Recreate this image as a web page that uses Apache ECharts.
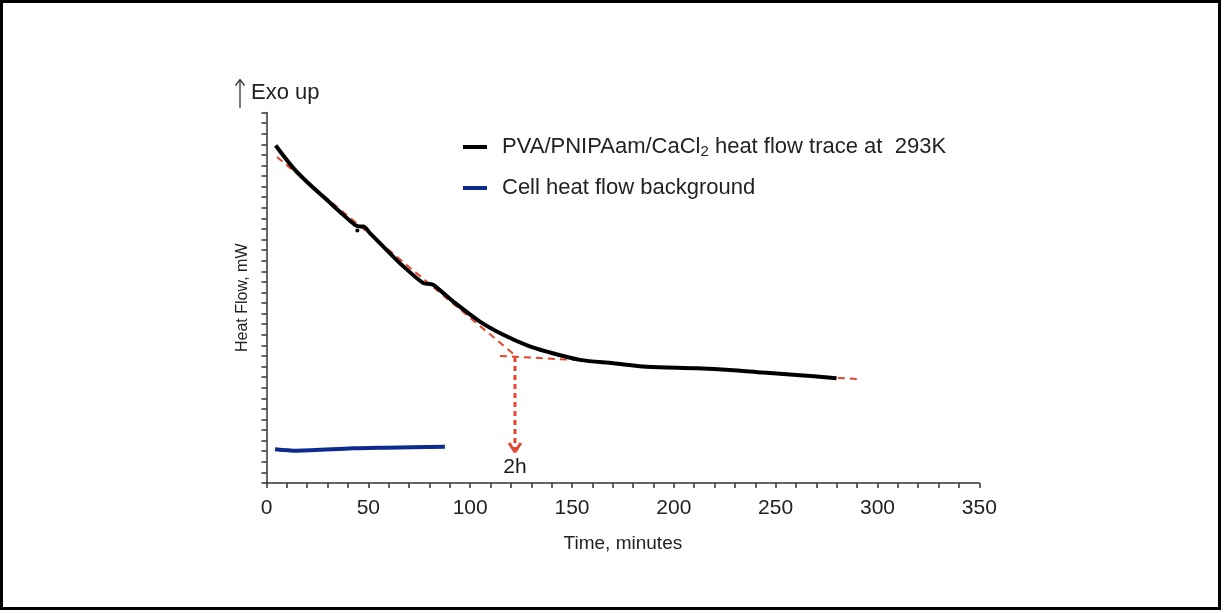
<!DOCTYPE html>
<html>
<head>
<meta charset="utf-8">
<script src="https://cdn.jsdelivr.net/npm/echarts@6/dist/echarts.min.js"></script>
<style>
html,body{margin:0;padding:0;background:#fff;}
#chart{width:1225px;height:613px;}
</style>
</head>
<body>
<div id="chart"></div>
<script>
// ---- data (time in minutes, heat flow in arbitrary tick units) ----
const traceName = 'PVA/PNIPAam/CaCl2 heat flow trace at  293K';
const bgName = 'Cell heat flow background';
const traceTime = [4.5, 13.2, 21.4, 29.6, 37.7, 43.4, 45.9, 47.5, 50.8, 62.2, 65.5, 77.0, 79.4, 81.9, 91.7, 104.8, 116.3, 128.0, 137.6, 153.9, 170.3, 186.6, 211.2, 227.5, 243.9, 260.3, 279.9];
const traceFlow = [31.88, 29.75, 28.17, 26.75, 25.33, 24.39, 24.22, 24.22, 23.6, 21.39, 20.77, 18.88, 18.81, 18.71, 17.14, 15.25, 14.0, 13.0, 12.41, 11.63, 11.31, 10.99, 10.84, 10.68, 10.43, 10.21, 9.9];
const dotPoint = [44.6, 23.85];
const bgTime = [4.2, 14.8, 42.6, 59.0, 87.6];
const bgFlow = [3.19, 3.05, 3.28, 3.34, 3.43];
// annotation lines
const tangent1Time = [5.15, 122.5];
const tangent1Flow = [30.8, 12.0];
const tangent2Time = [114.6, 153.9];
const tangent2Flow = [12.0, 11.6];
const tailTime = [280.5, 290.4];
const tailFlow = [9.92, 9.83];
const dropTime = [122.0, 122.0];
const dropFlow = [11.9, 3.0];
const headTime = [119.1, 122.0, 124.9];
const headFlow = [3.78, 2.93, 3.78];
const markLabelPos = [122.0, 1.5];
const markLabelText = '2h';
const xTicks = {min: 0, max: 350, step: 10, labelStep: 50};
const yTicks = {min: 0, max: 35, step: 1};

const zip = (a, b) => a.map((v, i) => [v, b[i]]);
const red = '#e5462f';
const FF = 'Liberation Sans';

const chart = echarts.init(document.getElementById('chart'));
chart.setOption({
  backgroundColor: '#fff',
  animation: false,
  grid: {left: 266.5, right: 1225 - 979.3, top: 112.5, bottom: 613 - 483, containLabel: false},
  xAxis: {
    type: 'value', min: xTicks.min, max: xTicks.max, interval: xTicks.step,
    name: 'Time, minutes', nameLocation: 'middle', nameGap: 51,
    nameTextStyle: {fontFamily: FF, fontSize: 19, color: '#222'},
    axisLine: {lineStyle: {color: '#333', width: 1.5}},
    axisTick: {show: true, length: 5, lineStyle: {color: '#333', width: 1.5}},
    axisLabel: {fontFamily: FF, fontSize: 21, color: '#222', margin: 15,
      formatter: v => (v % xTicks.labelStep === 0 ? String(v) : '')},
    splitLine: {show: false}
  },
  yAxis: {
    type: 'value', min: yTicks.min, max: yTicks.max, interval: yTicks.step,
    name: 'Heat Flow, mW', nameLocation: 'middle', nameGap: 16,
    nameTextStyle: {fontFamily: FF, fontSize: 16, color: '#222'},
    axisLine: {show: true, lineStyle: {color: '#333', width: 1.5}},
    axisTick: {show: true, length: 5, lineStyle: {color: '#333', width: 1.5}},
    axisLabel: {show: false},
    splitLine: {show: false}
  },
  legend: {
    data: [traceName, bgName],
    orient: 'vertical', left: 463, top: 136, itemGap: 18, padding: 0,
    icon: 'rect', itemWidth: 24, itemHeight: 4,
    formatter: name => name === traceName
      ? '{a|PVA/PNIPAam/CaCl}{s|2}{a| heat flow trace at  293K}'
      : '{a|' + name + '}',
    textStyle: {
      fontFamily: FF, color: '#222', padding: [0, 0, 0, 10],
      rich: {
        a: {fontFamily: FF, fontSize: 22, color: '#222', lineHeight: 24},
        s: {fontFamily: FF, fontSize: 15, color: '#222', lineHeight: 24, verticalAlign: 'bottom', padding: [8, 0, 0, 0]}
      }
    }
  },
  graphic: [
    {type: 'rect', shape: {x: 1.5, y: 1.5, width: 1218, height: 607}, style: {fill: 'none', stroke: '#000', lineWidth: 3}, silent: true},
    {type: 'line', shape: {x1: 240, y1: 108, x2: 240, y2: 80}, style: {stroke: '#333', lineWidth: 1.3}},
    {type: 'polyline', shape: {points: [[235.5, 85.5], [240, 79.5], [244.5, 85.5]]}, style: {stroke: '#333', lineWidth: 1.3, fill: 'none'}},
    {type: 'text', left: 251, top: 82, style: {text: 'Exo up', fontFamily: FF, fontSize: 22, fill: '#222'}}
  ],
  series: [
    {name: 'tangent1', type: 'line', data: zip(tangent1Time, tangent1Flow), symbol: 'none', silent: true,
      lineStyle: {color: red, width: 2, type: [7, 5]}, z: 1},
    {name: 'tangent2', type: 'line', data: zip(tangent2Time, tangent2Flow), symbol: 'none', silent: true,
      lineStyle: {color: red, width: 2, type: [7, 5]}, z: 1},
    {name: 'tail', type: 'line', data: zip(tailTime, tailFlow), symbol: 'none', silent: true,
      lineStyle: {color: red, width: 2, type: [7, 5]}, z: 1},
    {name: 'drop', type: 'line', data: zip(dropTime, dropFlow), symbol: 'none', silent: true,
      lineStyle: {color: red, width: 3, type: [5, 4]}, z: 1},
    {name: 'head', type: 'line', data: zip(headTime, headFlow), symbol: 'none', silent: true,
      lineStyle: {color: red, width: 3}, z: 1},
    {name: 'label2h', type: 'scatter', data: [markLabelPos], symbolSize: 0, silent: true,
      itemStyle: {opacity: 1},
      label: {show: true, position: 'inside', formatter: markLabelText, fontFamily: FF, fontSize: 21, color: '#1a1a1a'}},
    {name: traceName, type: 'line', data: zip(traceTime, traceFlow), symbol: 'none', smooth: 0.3,
      lineStyle: {color: '#000', width: 4}, itemStyle: {color: '#000'}, z: 3},
    {name: 'dot', type: 'scatter', data: [dotPoint], symbolSize: 4, itemStyle: {color: '#000', opacity: 1}, silent: true, z: 3},
    {name: bgName, type: 'line', data: zip(bgTime, bgFlow), symbol: 'none', smooth: 0.3,
      lineStyle: {color: '#0d2b8f', width: 4}, itemStyle: {color: '#0d2b8f'}, z: 3}
  ]
});
</script>
</body>
</html>
